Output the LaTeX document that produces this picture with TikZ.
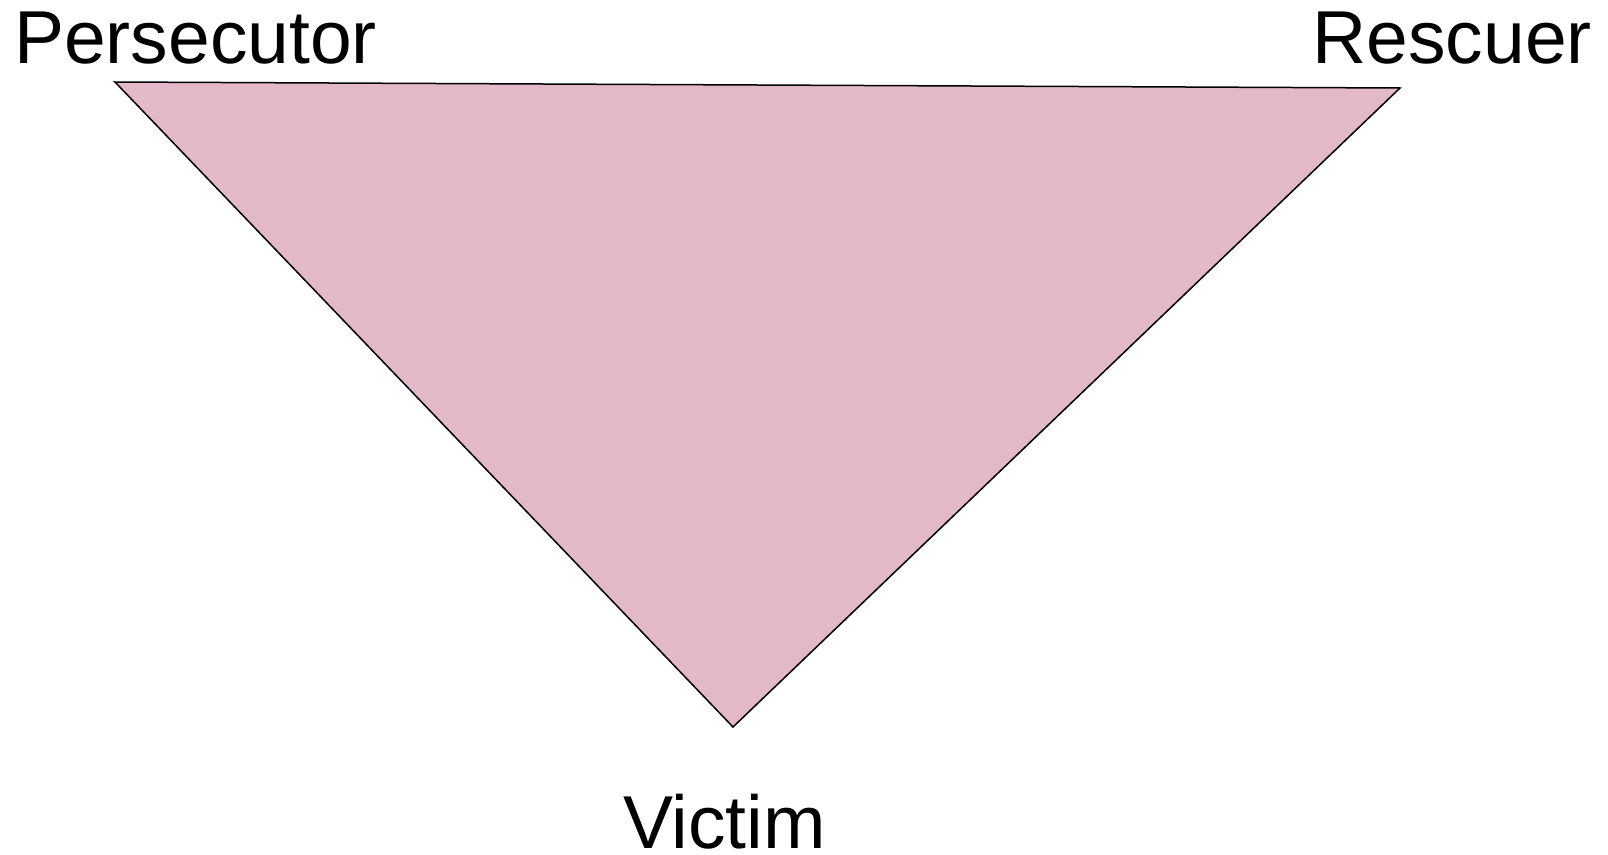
\documentclass[tikz,border=0pt]{standalone}
\usepackage{fontspec}
\setmainfont{Liberation Sans}
\usetikzlibrary{positioning}
\definecolor{rolepink}{RGB}{227,185,202}
\tikzset{every node/.style={font=\fontsize{75}{90}\selectfont,inner sep=0pt},role/.style={},drama/.style={fill=rolepink,draw=black,line width=1.5pt,line join=miter}}

\begin{document}
\begin{tikzpicture}[x=1pt,y=-1pt]
\useasboundingbox (0,0) rectangle (1608,854);
\coordinate (p) at (115,82);\coordinate (r) at (1400,88);\coordinate (v) at (733,727);
\draw[drama] (p)--(r)--(v)--cycle;
\node[role,anchor=base west] (pers) at (14,63){Persecutor};
\node[role,anchor=base east] (resc) at (1592,63){Rescuer};
\node[role,anchor=base] (vict) at (724.5,848){Victim};
\end{tikzpicture}
\end{document}
